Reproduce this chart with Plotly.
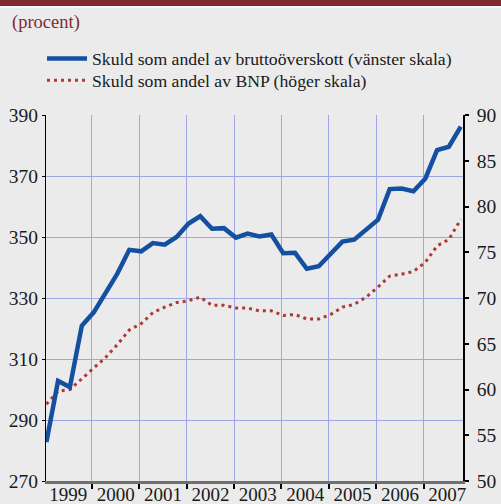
import plotly.graph_objects as go

# Quarterly observations, 1999 Q1 - 2007 Q4
years = [1999, 2000, 2001, 2002, 2003, 2004, 2005, 2006, 2007]
quarter_months = ["01", "04", "07", "10"]

# Debt as share of gross operating surplus (left scale, percent)
skuld_bruttooverskott = [
    282.8, 302.8, 300.8, 320.9,
    325.3, 331.5, 338.0, 345.8,
    345.3, 348.0, 347.5, 350.0,
    354.4, 356.8, 352.7, 352.9,
    349.8, 351.1, 350.2, 350.8,
    344.7, 344.8, 339.6, 340.4,
    344.5, 348.5, 349.1, 352.4,
    355.7, 365.7, 365.9, 365.0,
    369.2, 378.5, 379.6, 386.2,
]

# Debt as share of GDP (right scale, percent)
skuld_bnp = [
    58.4, 59.8, 60.0, 61.2,
    62.3, 63.5, 64.9, 66.5,
    67.2, 68.4, 69.0, 69.5,
    69.7, 70.1, 69.2, 69.2,
    68.9, 68.9, 68.6, 68.6,
    68.1, 68.2, 67.7, 67.7,
    68.2, 69.0, 69.3, 70.1,
    71.2, 72.4, 72.6, 72.9,
    73.9, 75.7, 76.4, 78.6,
]

name_left = "Skuld som andel av bruttoöverskott (vänster skala)"
name_right = "Skuld som andel av BNP (höger skala)"
unit_label = "(procent)"

# each quarter is placed mid-way through its first month
dates = [f"{y}-{m}-15" for y in years for m in quarter_months]

BG = "#ebebeb"
GRID = "#9ea7e4"
BLUE = "#1550a0"
RED = "#ad3a30"
DARKRED = "#7e2a31"
FONT = "Liberation Serif"
TICK_SIZE = 19.5
LEGEND_SIZE = 17.7

# plot area: x 46..463.5 px, y 115..481 px
W, H = 501, 504
ml, mr, mt, mb = 46, 38, 115, 23
pw, ph = W - ml - mr, H - mt - mb


def px_x(p):
    return (p - ml) / pw


def px_y(p):
    return (H - mb - p) / ph


fig = go.Figure()

fig.add_trace(go.Scatter(
    x=dates, y=skuld_bnp, name=name_right, yaxis="y", mode="lines",
    line=dict(color=RED, width=3, dash="3px,4px"),
    legend="legend2",
))
fig.add_trace(go.Scatter(
    x=dates, y=skuld_bruttooverskott, name=name_left, yaxis="y2", mode="lines",
    line=dict(color=BLUE, width=4.5),
    legend="legend",
))

legend_style = dict(
    x=px_x(42), xanchor="left", yanchor="middle",
    bgcolor="rgba(0,0,0,0)", borderwidth=0,
    font=dict(family=FONT, size=LEGEND_SIZE, color="#1a1a1a"),
    itemwidth=40,
)

fig.update_layout(
    width=W, height=H,
    margin=dict(l=ml, r=mr, t=mt, b=mb, pad=0, autoexpand=False),
    paper_bgcolor=BG, plot_bgcolor=BG,
    font=dict(family=FONT, size=TICK_SIZE, color="#1a1a1a"),
    xaxis=dict(
        type="date", range=["1999-01-12", "2007-11-01"],
        tick0="1999-01-01", dtick="M12", tickformat="%Y",
        ticklabelmode="period", automargin=False,
        tickfont=dict(size=19),
        ticklabelstandoff=-11,
        showgrid=True, gridcolor=GRID, gridwidth=1,
        ticks="outside", ticklen=5, tickwidth=1.5, tickcolor="#000000",
        showline=True, linecolor="#707070", linewidth=2.5,
        zeroline=False,
    ),
    yaxis=dict(
        range=[50, 90], tick0=50, dtick=5, side="right", automargin=False,
        showgrid=False, zeroline=False,
        showline=True, linecolor="#000000", linewidth=1.5,
        ticks="outside", ticklen=4, tickwidth=1.5, tickcolor="#000000",
        ticklabelstandoff=4,
    ),
    yaxis2=dict(
        range=[270, 390], tick0=270, dtick=20, side="left", automargin=False,
        overlaying="y",
        showgrid=True, gridcolor=GRID, gridwidth=1, zeroline=False,
        showline=True, linecolor="#000000", linewidth=1.2,
        ticks="outside", ticklen=3, tickcolor="#000000",
    ),
    showlegend=True,
    legend=dict(legend_style, y=px_y(59)),
    legend2=dict(legend_style, y=px_y(80.7)),
    shapes=[
        dict(type="rect", xref="paper", yref="paper",
             x0=px_x(-5), x1=px_x(W + 5), y0=px_y(6), y1=px_y(-5),
             fillcolor=DARKRED, line=dict(width=0), layer="above"),
        dict(type="rect", xref="paper", yref="paper",
             x0=px_x(-5), x1=px_x(W + 5), y0=px_y(8), y1=px_y(6),
             fillcolor="#f7f7f7", line=dict(width=0), layer="above"),
    ],
    annotations=[
        dict(text=unit_label, xref="paper", yref="paper",
             x=px_x(10), y=px_y(22), xanchor="left", yanchor="middle",
             showarrow=False,
             font=dict(family=FONT, size=18.5, color=DARKRED)),
    ],
)

fig.write_html("out.html")
